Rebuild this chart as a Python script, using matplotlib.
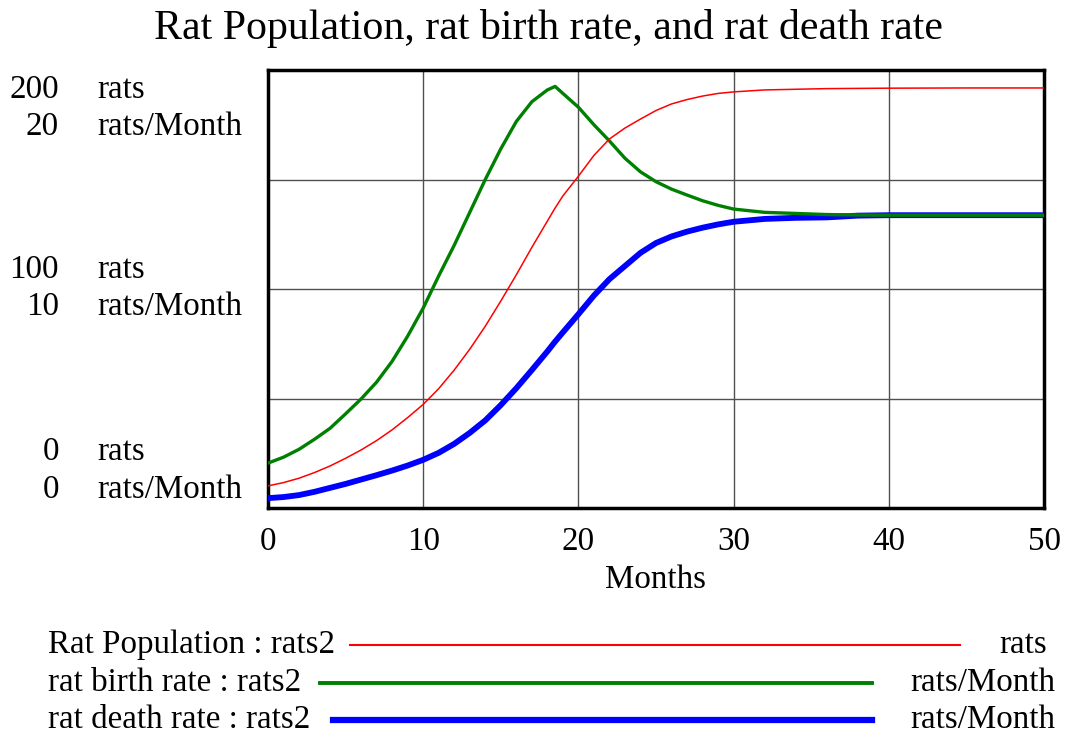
import matplotlib.pyplot as plt
from matplotlib.lines import Line2D

# values (Months)
months = [0, 1, 2, 3, 4, 5, 6, 7, 8, 9, 10, 11, 12, 13, 14, 15, 16, 17, 18, 18.5,
          19, 20, 21, 22, 23, 24, 25, 26, 27, 28, 29, 30, 32, 34, 36, 38, 40, 45, 50]
rat_population = [10.1, 11.6, 13.6, 16.2, 19.2, 22.7, 26.5, 30.8, 35.7, 41.3, 47.3, 54.5,
                  63, 72.5, 83, 94.5, 106.5, 119, 131, 137, 142.5, 151.5, 161, 168.5,
                  173.5, 177.6, 181.5, 184.5, 186.5, 188.1, 189.3, 190, 190.9, 191.2, 191.5,
                  191.6, 191.7, 191.8, 191.8]
rat_birth_rate = [2.05, 2.32, 2.68, 3.14, 3.64, 4.3, 4.98, 5.75, 6.7, 7.85, 9.13, 10.6, 12.0,
                  13.5, 15.0, 16.4, 17.65, 18.55, 19.09, 19.25, 18.93, 18.3, 17.5, 16.76,
                  15.97, 15.35, 14.9, 14.56, 14.29, 14.03, 13.82, 13.65, 13.5, 13.45, 13.4,
                  13.38, 13.37, 13.37, 13.37]
rat_death_rate = [0.45, 0.5, 0.59, 0.74, 0.92, 1.1, 1.3, 1.5, 1.71, 1.94, 2.2, 2.52, 2.93,
                  3.43, 4.0, 4.7, 5.47, 6.3, 7.15, 7.6, 8.02, 8.85, 9.7, 10.45, 11.05, 11.65,
                  12.1, 12.4, 12.62, 12.8, 12.95, 13.07, 13.2, 13.25, 13.27, 13.35, 13.37,
                  13.37, 13.37]

x_ticks = [0, 10, 20, 30, 40, 50]

W, H = 1071, 738
FS = 23.8
plt.rcParams['font.family'] = ['Liberation Serif', 'DejaVu Serif']
fig = plt.figure(figsize=(W / 100, H / 100), dpi=100)

def fx(px):
    return px / W

def fy(py):
    return 1 - py / H

ax = fig.add_axes([fx(268), fy(508), fx(1044) - fx(268), fy(70) - fy(508)])
ax2 = ax.twinx()

ax.set_xlim(0, 50)
ax.set_ylim(0, 200)
ax2.set_ylim(0, 20)

ax.set_xticks(x_ticks)
ax.set_xticklabels([str(t) for t in x_ticks], fontsize=FS)
ax.tick_params(axis='x', length=0, pad=13)
ax.set_yticks([50, 100, 150])
ax.set_yticklabels([])
ax.tick_params(axis='y', length=0)
ax2.set_yticks([])
ax.grid(True, color='#505050', lw=1)
for s in ax.spines.values():
    s.set_linewidth(2.5)
for s in ax2.spines.values():
    s.set_visible(False)

ax2.plot(months, rat_death_rate, color='#0000ff', lw=4.2, solid_capstyle='butt')
ax2.plot(months, rat_birth_rate, color='#008000', lw=2.4)
ax2.plot(months, rat_population, color='#ff0000', lw=1.1, transform=ax.transData)

ax.set_xlabel('Months', fontsize=FS, labelpad=6)

fig.text(fx(549), fy(28), 'Rat Population, rat birth rate, and rat death rate',
         ha='center', va='center', fontsize=30.2)

# left axis labels
left_labels = [('200', 'rats', 90), ('20', 'rats/Month', 127),
               ('100', 'rats', 270), ('10', 'rats/Month', 307),
               ('0', 'rats', 452), ('0', 'rats/Month', 490)]
for num, unit, py in left_labels:
    fig.text(fx(59), fy(py), num, ha='right', va='center', fontsize=FS)
    fig.text(fx(97), fy(py), unit, ha='left', va='center', fontsize=FS)

# legend
legend_rows = [('Rat Population : rats2', 'rats', 1047, '#ff0000', 1.5, 350, 960, 645),
               ('rat birth rate : rats2', 'rats/Month', 1055, '#008000', 2.8, 320, 872, 683),
               ('rat death rate : rats2', 'rats/Month', 1055, '#0000ff', 4.5, 333, 872, 720)]
for name, unit, ux, col, lw, x0, x1, py in legend_rows:
    fig.text(fx(48), fy(py), name, ha='left', va='center', fontsize=FS)
    fig.text(fx(ux), fy(py), unit, ha='right', va='center', fontsize=FS)
    fig.add_artist(Line2D([fx(x0), fx(x1)], [fy(py), fy(py)], color=col, lw=lw,
                          transform=fig.transFigure))

fig.savefig('out.png', dpi=100)
